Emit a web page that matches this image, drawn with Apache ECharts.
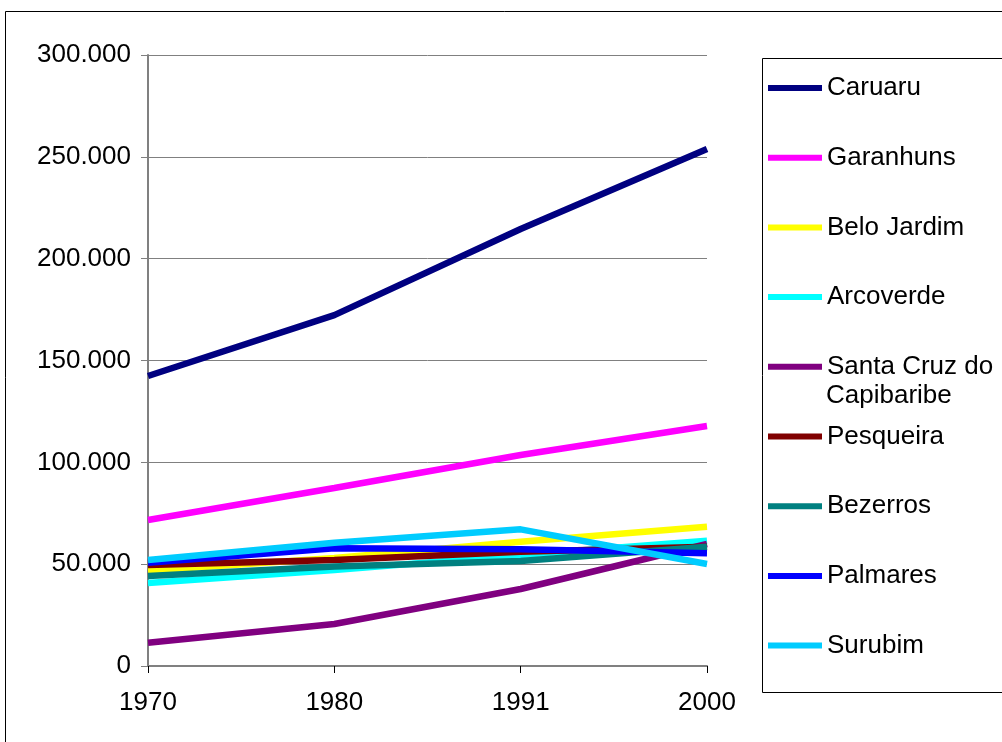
<!DOCTYPE html>
<html>
<head>
<meta charset="utf-8">
<script src="https://cdn.jsdelivr.net/npm/echarts@6/dist/echarts.min.js"></script>
<style>html,body{margin:0;padding:0;background:#fff;}#c{width:1002px;height:742px;}</style>
</head>
<body>
<div id="c"></div>
<script>
const years = ['1970', '1980', '1991', '2000'];
const seriesNames = ['Caruaru', 'Garanhuns', 'Belo Jardim', 'Arcoverde', 'Santa Cruz do Capibaribe', 'Pesqueira', 'Bezerros', 'Palmares', 'Surubim'];
const caruaru = [142400, 172300, 214600, 253800];
const garanhuns = [71700, 87400, 103600, 117800];
const beloJardim = [46800, 53000, 61000, 68400];
const arcoverde = [40700, 47100, 54500, 61500];
const santaCruz = [11400, 20600, 37800, 59900];
const pesqueira = [49600, 52000, 56100, 58600];
const bezerros = [44200, 48800, 51600, 58600];
const palmares = [50700, 57800, 57300, 55300];
const surubim = [52000, 60500, 67100, 50100];
const allValues = [caruaru, garanhuns, beloJardim, arcoverde, santaCruz, pesqueira, bezerros, palmares, surubim];
const colors = ['#000080', '#FF00FF', '#FFFF00', '#00FFFF', '#800080', '#800000', '#008080', '#0000FF', '#00CCFF'];

const FONT = 'Liberation Sans, Arial, sans-serif';
const FS = 26;

function fmt(v) {
  if (v === 0) return '0';
  const s = String(v);
  return s.replace(/\B(?=(\d{3})+(?!\d))/g, '.');
}

const chart = echarts.init(document.getElementById('c'));
chart.setOption({
  animation: false,
  backgroundColor: '#fff',
  color: colors,
  grid: { left: 148, right: 295, top: 55, bottom: 76, containLabel: false },
  xAxis: {
    type: 'category',
    data: years,
    boundaryGap: false,
    axisLine: { lineStyle: { color: '#808080', width: 2 } },
    axisTick: { show: true, length: 7, inside: false, lineStyle: { color: '#000', width: 1 } },
    axisLabel: { color: '#000', fontFamily: FONT, fontSize: FS, margin: 24 },
    splitLine: { show: false }
  },
  yAxis: {
    type: 'value',
    min: 0, max: 300000, interval: 50000,
    axisLine: { show: true, lineStyle: { color: '#808080', width: 2 } },
    axisTick: { show: true, length: 7, lineStyle: { color: '#808080', width: 1 } },
    axisLabel: { color: '#000', fontFamily: FONT, fontSize: FS, margin: 17, formatter: fmt },
    splitLine: { show: true, lineStyle: { color: '#808080', width: 1 } }
  },
  legend: {
    orient: 'vertical',
    left: 763, top: 70,
    icon: 'rect',
    itemWidth: 54, itemHeight: 6,
    itemGap: 43.7,
    textStyle: { color: '#000', fontFamily: FONT, fontSize: FS, lineHeight: 24 },
    formatter: function (n) { return n === 'Santa Cruz do Capibaribe' ? 'Santa Cruz do' : n; },
    data: seriesNames,
    selectedMode: false
  },
  graphic: [
    { type: 'rect', shape: { x: 5.5, y: 11.5, width: 1100, height: 800 }, style: { fill: 'none', stroke: '#000', lineWidth: 1 }, z: -1, silent: true },
    { type: 'rect', shape: { x: 762.5, y: 58.5, width: 400, height: 634 }, style: { fill: 'none', stroke: '#000', lineWidth: 1 }, silent: true },
    { type: 'text', left: 826, top: 383, style: { text: 'Capibaribe', fill: '#000', font: FS + 'px ' + FONT } , silent: true}
  ],
  series: seriesNames.map((n, i) => ({
    name: n,
    type: 'line',
    data: allValues[i],
    symbol: 'none',
    lineStyle: { width: 6.5, color: colors[i] },
    itemStyle: { color: colors[i] },
    emphasis: { disabled: true }
  }))
});
</script>
</body>
</html>
